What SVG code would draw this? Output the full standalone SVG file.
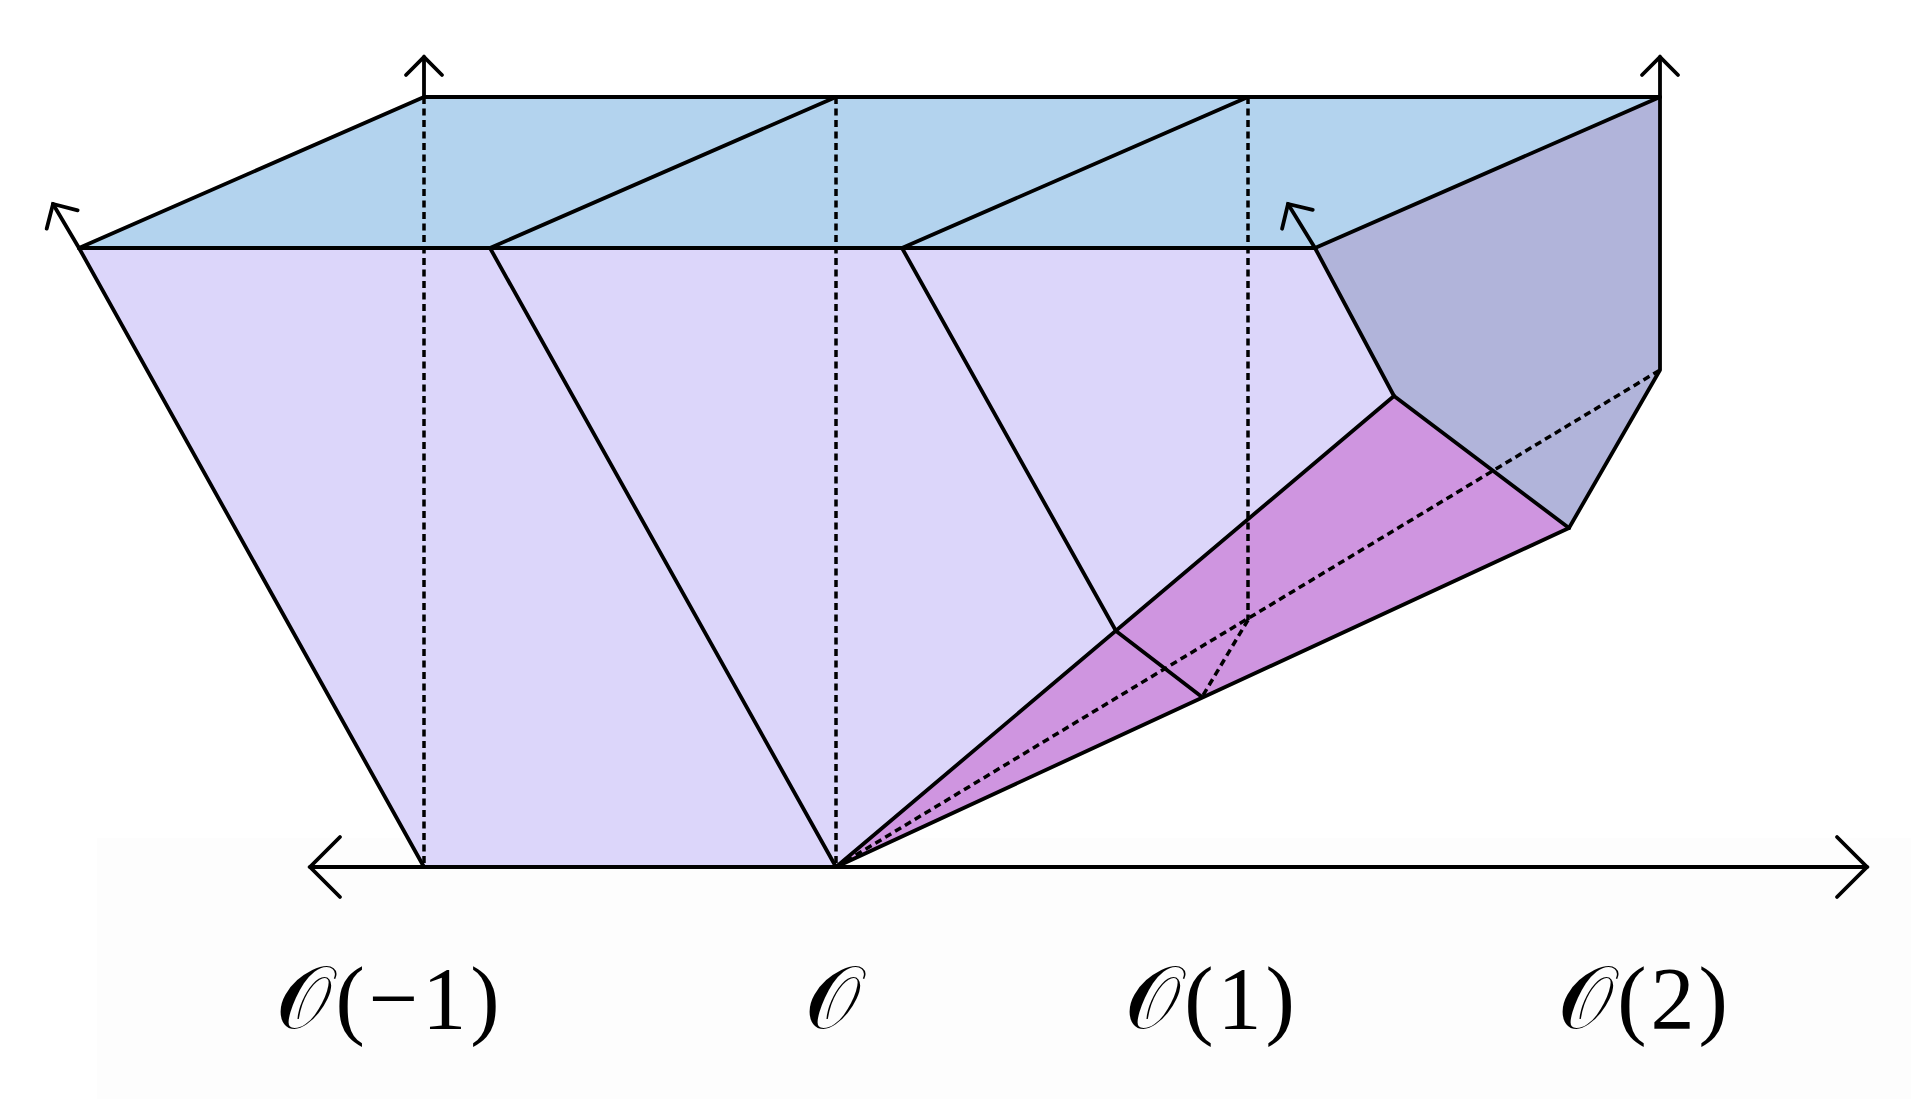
<svg xmlns="http://www.w3.org/2000/svg" width="1911" height="1099" viewBox="0 0 1911 1099">
<defs>
<style>
.s{fill:none;stroke:#000;stroke-width:3.8;stroke-linecap:round;stroke-linejoin:round}
.d{fill:none;stroke:#000;stroke-width:3.5;stroke-dasharray:7 4.5}
.lbl{font-family:"Liberation Serif","DejaVu Serif",serif;font-size:88px;letter-spacing:4px;fill:#000;text-anchor:middle}
</style>
<marker id="ah" markerUnits="userSpaceOnUse" markerWidth="60" markerHeight="60" viewBox="-30 -30 60 60" refX="0" refY="0" orient="auto">
<path d="M-18,-18 L0,0 L-18,18" fill="none" stroke="#000" stroke-width="3.8" stroke-linecap="round" stroke-linejoin="miter"/>
</marker>
<marker id="ahb" markerUnits="userSpaceOnUse" markerWidth="80" markerHeight="80" viewBox="-40 -40 80 80" refX="0" refY="0" orient="auto">
<path d="M-30,-30 L0,0 L-30,30" fill="none" stroke="#000" stroke-width="3.8" stroke-linecap="round" stroke-linejoin="miter"/>
</marker>
</defs>
<rect x="0" y="0" width="1911" height="1099" fill="#fff"/>
<rect x="97" y="838" width="1814" height="261" fill="#fdfdfd"/>
<g id="faces">
<polygon id="top" points="79,248 424,97 1660,97 1315,248" fill="#b3d3ee"/>
<polygon id="front" points="79,248 1315,248 1394,396 836,867 424,867" fill="#dcd6fa"/>
<polygon id="side" points="1315,248 1660,97 1660,370 1569,528 1394,396" fill="#b1b4da"/>
<polygon id="pink" points="836,867 1394,396 1569,528" fill="#cf95e0"/>
</g>
<g id="dashed">
<line class="d" x1="424" y1="97" x2="424" y2="867"/>
<line class="d" x1="836" y1="97" x2="836" y2="867"/>
<line class="d" x1="1248" y1="97" x2="1248" y2="620"/>
<line class="d" x1="1248" y1="620" x2="1202" y2="697"/>
<line class="d" x1="836" y1="867" x2="1660" y2="370"/>
</g>
<g id="edges">
<polyline class="s" points="79,248 424,97 1660,97 1660,370 1569,528"/>
<line class="s" x1="79" y1="248" x2="1315" y2="248"/>
<line class="s" x1="490" y1="248" x2="836" y2="97"/>
<line class="s" x1="902" y1="248" x2="1248" y2="97"/>
<line class="s" x1="1315" y1="248" x2="1660" y2="97"/>
<line class="s" x1="79" y1="248" x2="424" y2="867"/>
<line class="s" x1="490" y1="248" x2="836" y2="867"/>
<line class="s" x1="902" y1="248" x2="1116" y2="631"/>
<line class="s" x1="1315" y1="248" x2="1394" y2="396"/>
<line class="s" x1="836" y1="867" x2="1394" y2="396"/>
<line class="s" x1="836" y1="867" x2="1569" y2="528"/>
<line class="s" x1="1394" y1="396" x2="1569" y2="528"/>
<line class="s" x1="1116" y1="631" x2="1202" y2="697"/>
</g>
<g id="arrows">
<line class="s" x1="424" y1="97" x2="424" y2="57" marker-end="url(#ah)"/>
<line class="s" x1="1660" y1="97" x2="1660" y2="57" marker-end="url(#ah)"/>
<line class="s" x1="79" y1="248" x2="53" y2="204" marker-end="url(#ah)"/>
<line class="s" x1="1315" y1="248" x2="1288" y2="204" marker-end="url(#ah)"/>
<line class="s" x1="600" y1="867" x2="310" y2="867" marker-end="url(#ahb)"/>
<line class="s" x1="424" y1="867" x2="1867" y2="867" marker-end="url(#ahb)"/>
</g>
<g id="labels">
<text class="lbl" x="390" y="1028">𝒪(−1)</text>
<text class="lbl" x="834" y="1028">𝒪</text>
<text class="lbl" x="1212" y="1028">𝒪(1)</text>
<text class="lbl" x="1645" y="1028">𝒪(2)</text>
</g>
</svg>
